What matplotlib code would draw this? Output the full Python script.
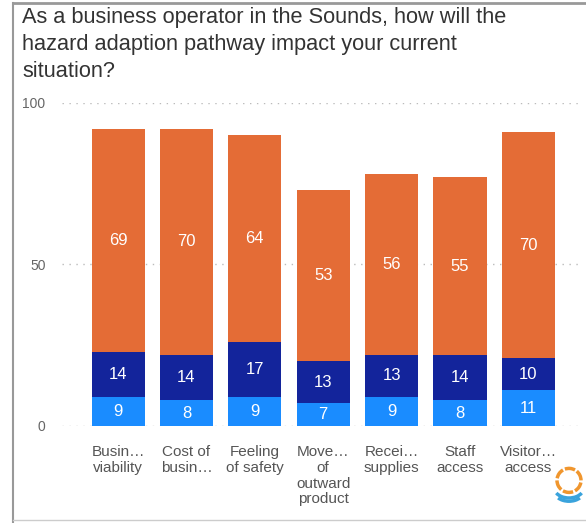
import numpy as np
import matplotlib
matplotlib.use("Agg")
import matplotlib.pyplot as plt
from matplotlib.lines import Line2D
from matplotlib.patches import Arc

plt.rcParams['font.family'] = ['Liberation Sans', 'DejaVu Sans']

categories = ["Busin\u2026\nviability", "Cost of\nbusin\u2026", "Feeling\nof safety",
              "Move\u2026\nof\noutward\nproduct", "Recei\u2026\nsupplies",
              "Staff\naccess", "Visitor\u2026\naccess"]
light_vals = [9, 8, 9, 7, 9, 8, 11]
dark_vals = [14, 14, 17, 13, 13, 14, 10]
orange_vals = [69, 70, 64, 53, 56, 55, 70]

c_light = "#1a8cff"
c_dark = "#13249b"
c_orange = "#e46c36"

fig = plt.figure(figsize=(5.86, 5.23), dpi=100)
ax = fig.add_axes([0.106, 0.1855, 0.884, 0.6176])

x = np.arange(len(categories))
w = 0.78
light = np.array(light_vals)
dark = np.array(dark_vals)
orange = np.array(orange_vals)

ax.bar(x, light, w, color=c_light, zorder=3)
ax.bar(x, dark, w, bottom=light, color=c_dark, zorder=3)
ax.bar(x, orange, w, bottom=light + dark, color=c_orange, zorder=3)

for i in range(len(x)):
    ax.text(x[i], light[i] / 2, str(light[i]), ha="center", va="center",
            color="white", fontsize=12, zorder=4)
    ax.text(x[i], light[i] + dark[i] / 2, str(dark[i]), ha="center", va="center",
            color="white", fontsize=12, zorder=4)
    ax.text(x[i], light[i] + dark[i] + orange[i] / 2, str(orange[i]), ha="center",
            va="center", color="white", fontsize=12, zorder=4)

ax.set_xlim(-0.82, 6.76)
ax.set_ylim(0, 100)
ax.set_yticks([0, 50, 100])
ax.tick_params(axis="y", length=0, pad=12, labelsize=10, labelcolor="#666666")
ax.set_xticks(x)
ax.set_xticklabels(categories, fontsize=11, color="#555555", linespacing=1.15)
ax.tick_params(axis="x", length=0, pad=14)
for s in ax.spines.values():
    s.set_visible(False)
ax.yaxis.grid(True, color="#bbbbbb", linestyle=(0, (1, 4)), linewidth=1, zorder=0)

fig.text(22 / 586, 1 - 7 / 523,
         "As a business operator in the Sounds, how will the\nhazard adaption pathway impact your current\nsituation?",
         ha="left", va="top", fontsize=15.7, color="#333333", linespacing=1.36)

# frame
fig.add_artist(Line2D([13 / 586, 1], [1 - 3 / 523, 1 - 3 / 523], color="#999999", lw=2))
fig.add_artist(Line2D([13 / 586, 13 / 586], [0, 1 - 3 / 523], color="#999999", lw=1.5))
fig.add_artist(Line2D([13 / 586, 1], [3 / 523, 3 / 523], color="#cccccc", lw=1))

# logo
lax = fig.add_axes([553 / 586, 12 / 523, 32 / 586, 50 / 523])
lax.set_xlim(-1, 1)
lax.set_ylim(-1.6, 1.1)
lax.set_aspect("equal")
lax.axis("off")
for a0 in range(0, 360, 60):
    lax.add_patch(Arc((0, 0.1), 1.5, 1.5, theta1=a0, theta2=a0 + 50,
                      color="#f0962e", lw=2.5))
lax.add_patch(Arc((0, -0.4), 1.8, 1.2, theta1=200, theta2=340, color="#3aa3dc", lw=2.5))
lax.add_patch(Arc((0, -0.6), 1.8, 1.2, theta1=210, theta2=330, color="#3aa3dc", lw=2.5))

fig.savefig("out.png", dpi=100)
